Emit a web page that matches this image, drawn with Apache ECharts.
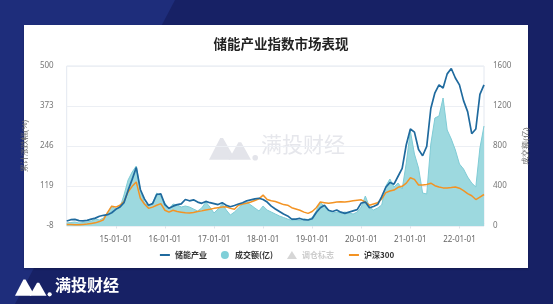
<!DOCTYPE html>
<html><head><meta charset="utf-8">
<script src="https://cdn.jsdelivr.net/npm/echarts@6/dist/echarts.min.js"></script>
<style>html,body{margin:0;padding:0;background:#172165;}#c{width:553px;height:304px;}</style>
</head><body><div id="c"></div>
<script>
// monthly categories 2014-01 .. 2022-07
const categories = [];
for (let y = 14; y <= 22; y++) {
  for (let m = 1; m <= 12; m++) {
    if (y === 22 && m > 7) break;
    categories.push(y + '-' + (m < 10 ? '0' + m : m) + '-01');
  }
}
const storageIndex = [8,12,13,9,8,10,14,17,23,26,28,34,
  45,52,66,105,140,178,108,78,58,63,92,94,
  60,48,55,60,62,76,72,75,68,64,70,66,
  63,60,66,58,53,57,62,66,72,75,78,80,
  76,68,55,46,38,30,24,14,14,16,12,11,
  15,35,50,58,42,38,43,36,32,36,40,44,
  65,68,50,54,60,85,115,130,125,150,175,250,
  300,290,235,215,245,365,415,440,430,475,492,462,
  440,390,355,285,300,410,440];
const hs300 = [-3,-3,-4,-4,-3,-2,0,2,6,12,35,55,
  52,58,70,100,118,132,80,62,48,52,58,63,
  42,36,42,38,36,34,33,35,38,40,43,45,
  48,50,52,53,48,45,58,62,64,68,73,78,
  90,76,72,70,65,60,58,50,46,42,36,32,
  38,50,68,66,64,66,68,69,68,70,72,74,
  75,68,58,62,66,78,98,103,106,115,118,128,
  145,140,122,122,124,128,120,116,113,113,114,116,
  112,104,95,88,76,84,92];
const volume = [30,35,40,30,35,40,50,70,60,80,130,200,
  170,180,310,460,540,600,360,230,200,230,330,300,
  230,170,220,210,190,200,190,170,150,180,240,190,
  130,170,220,160,110,140,180,220,240,210,180,150,
  200,160,140,120,100,85,70,55,60,55,70,65,
  85,150,240,190,160,130,140,130,140,130,120,140,
  190,300,190,160,180,210,400,470,390,430,370,630,
  950,720,580,330,320,820,1080,1100,1280,960,870,760,
  620,570,490,430,390,780,1000];
const leftTicks = {min: -8, max: 500, interval: 127};
const rightTicks = {min: 0, max: 1600, interval: 400};

const chart = echarts.init(document.getElementById('c'));
const showLabel = (i, v) => v.endsWith('-01-01') && v !== '14-01-01';
function logo(x, y, s, color, z) {
  const p1 = [[0,17],[8,1.5],[10,1.5],[17.5,14.5],[15,17]];
  const p2 = [[14,17],[21,4.5],[23,4.5],[30,17]];
  const tr = pts => pts.map(p => [x + p[0] * s, y + p[1] * s]);
  return [
    {type: 'polygon', z: z, shape: {points: tr(p1)}, style: {fill: color}},
    {type: 'polygon', z: z, shape: {points: tr(p2)}, style: {fill: color}},
    {type: 'circle', z: z, shape: {cx: x + 33 * s, cy: y + 15.5 * s, r: 2 * s}, style: {fill: color}}
  ];
}
chart.setOption({
  animation: false,
  backgroundColor: '#172165',
  graphic: [
    {type: 'polygon', z: -10, shape: {points: [[0,0],[175,0],[15,304],[0,304]]}, style: {fill: '#1e2d7b'}},
    {type: 'rect', z: -9, shape: {x: 24, y: 25, width: 504, height: 243}, style: {fill: '#ffffff', shadowBlur: 2, shadowColor: 'rgba(0,0,0,0.25)', shadowOffsetY: 1}},
    ...logo(15, 278, 1.05, '#ffffff', 5),
    {type: 'text', z: 5, left: 55, top: 277, style: {text: '满投财经', fill: '#ffffff', font: 'bold 16px "Noto Sans CJK SC"'}},
    ...logo(209, 136, 1.4, '#e3e4ea', 0),
    {type: 'text', z: 0, left: 261, top: 134, style: {text: '满投财经', fill: '#e6e7ec', font: '21px "Noto Sans CJK SC"'}}
  ],
  title: {text: '储能产业指数市场表现', left: 276, textAlign: 'center', top: 32,
    textStyle: {fontSize: 13.5, fontWeight: 'bold', color: '#222', fontFamily: 'Noto Sans CJK SC'}},
  legend: {
    bottom: 40, left: 'center', itemWidth: 10, itemHeight: 8, itemGap: 14,
    textStyle: {fontSize: 8, color: '#333', fontWeight: 'bold', fontFamily: 'Noto Sans CJK SC'},
    inactiveColor: '#ccc',
    data: [
      {name: '储能产业', itemStyle: {opacity: 0}},
      {name: '成交额(亿)', icon: 'circle'},
      {name: '调仓标志', icon: 'triangle'},
      {name: '沪深300', itemStyle: {opacity: 0}}
    ],
    selected: {'调仓标志': false}
  },
  grid: {left: 66.7, right: 69, top: 66, bottom: 78, show: true, borderColor: '#e3e8f0', borderWidth: 1},
  xAxis: {
    type: 'category', data: categories, boundaryGap: false,
    axisLine: {lineStyle: {color: '#e3e8f0'}},
    axisTick: {interval: showLabel, length: 5, lineStyle: {color: '#dfe3ea'}},
    axisLabel: {interval: showLabel, fontSize: 8, color: '#666', margin: 10, fontFamily: 'Noto Sans'}
  },
  yAxis: [
    {type: 'value', min: leftTicks.min, max: leftTicks.max, interval: leftTicks.interval,
      name: '累计涨跌幅(%)', nameLocation: 'middle', nameGap: 32, nameRotate: 90,
      nameTextStyle: {fontSize: 8, color: '#666'},
      axisLine: {show: false}, axisTick: {show: false},
      axisLabel: {fontSize: 8, color: '#777', margin: 13, fontFamily: 'Noto Sans'},
      splitLine: {lineStyle: {color: '#eceff4'}}},
    {type: 'value', min: rightTicks.min, max: rightTicks.max, interval: rightTicks.interval,
      name: '成交额(亿)', nameLocation: 'middle', nameGap: 36, nameRotate: 90,
      nameTextStyle: {fontSize: 8, color: '#666'},
      axisLine: {show: false}, axisTick: {show: false},
      axisLabel: {fontSize: 8, color: '#777', margin: 9, fontFamily: 'Noto Sans', formatter: v => String(v)},
      splitLine: {show: false}}
  ],
  series: [
    {name: '成交额(亿)', type: 'line', yAxisIndex: 1, data: volume, symbol: 'none', z: 1,
      itemStyle: {color: '#7fcfd8'},
      lineStyle: {color: '#7fcbd5', width: 1},
      areaStyle: {color: '#9dd9df', opacity: 1}},
    {name: '调仓标志', type: 'scatter', symbol: 'triangle', data: [], itemStyle: {color: '#aaa'}},
    {name: '沪深300', type: 'line', data: hs300, symbol: 'none', z: 3,
      itemStyle: {color: '#f39323'}, lineStyle: {color: '#f39323', width: 1.5}},
    {name: '储能产业', type: 'line', data: storageIndex, symbol: 'none', z: 4,
      itemStyle: {color: '#1f6a9e'}, lineStyle: {color: '#1f6a9e', width: 1.7}}
  ]
});
</script></body></html>
